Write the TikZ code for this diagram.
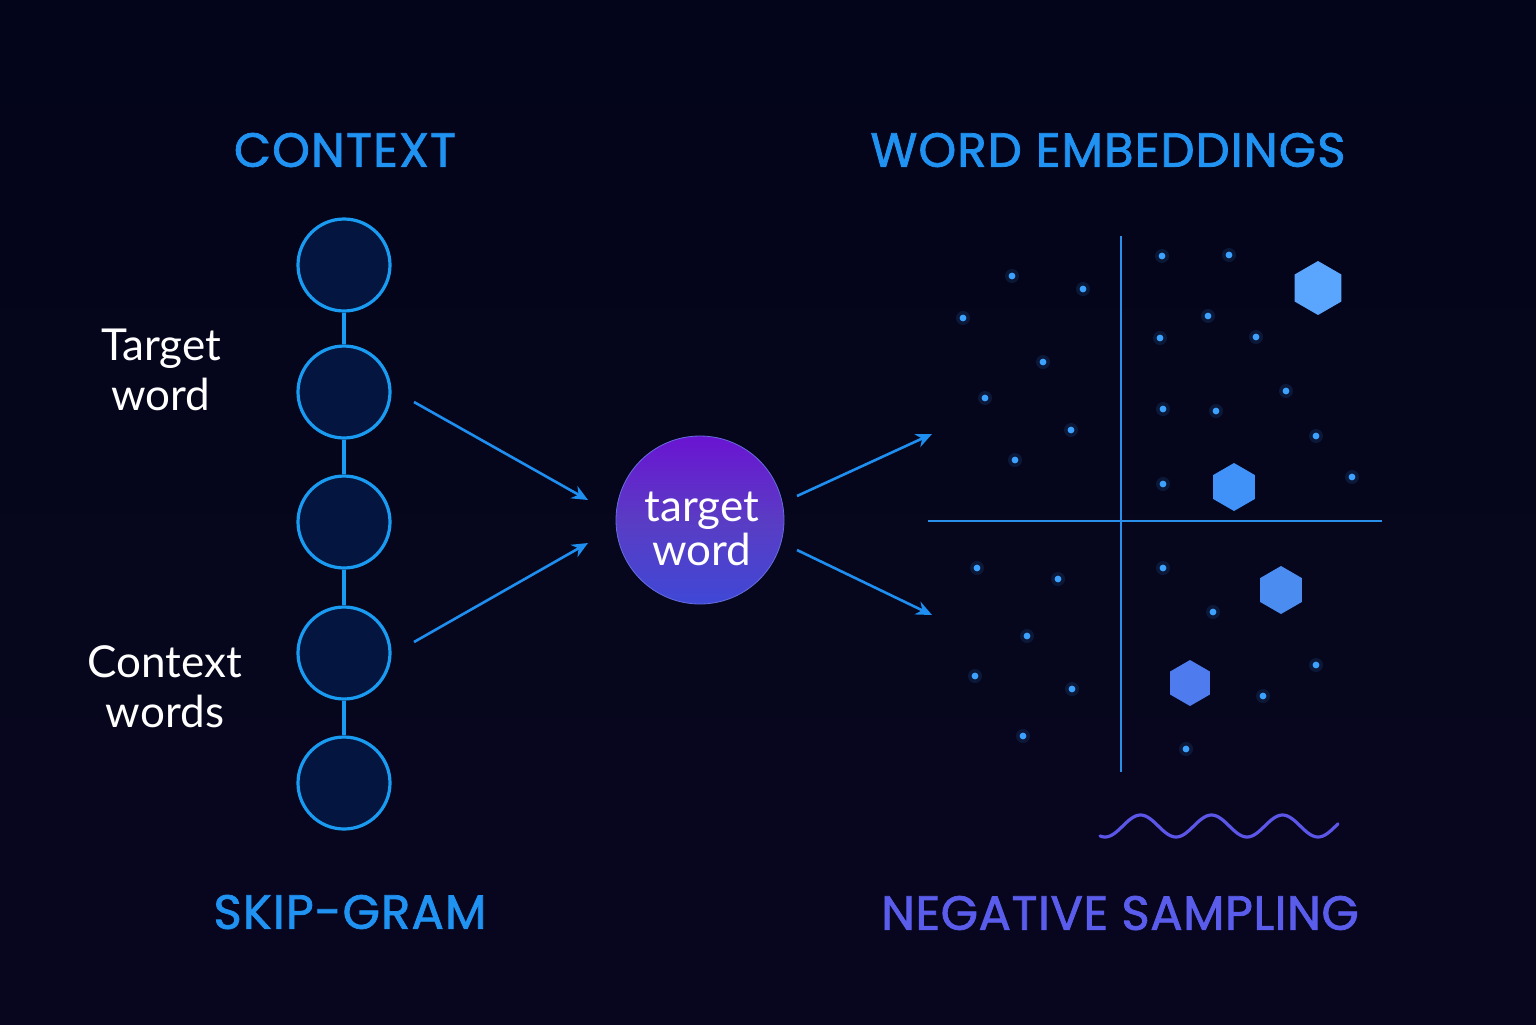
\documentclass[tikz,border=0pt]{standalone}
\usepackage{fontspec}
\setmainfont{Lato}
\newfontfamily\titlefont[LetterSpace=2.5, FakeBold=1.6]{Poppins}
\newfontfamily\titlefontn[LetterSpace=1.2, FakeBold=1.6]{Poppins}
\newfontfamily\labelfont{Lato}
\usetikzlibrary{arrows.meta,shapes.geometric}
\definecolor{bgtop}{HTML}{03051A}
\definecolor{bgbot}{HTML}{08061F}
\definecolor{ringblue}{HTML}{1A9BF2}
\definecolor{ringfill}{HTML}{04153F}
\definecolor{arrowblue}{HTML}{1E8FF0}
\definecolor{axisblue}{HTML}{2A8FE8}
\definecolor{dotblue}{HTML}{3DA2FF}
\definecolor{titleblue}{HTML}{1F92F2}
\definecolor{titleviolet}{HTML}{5A5CEB}
\definecolor{wavecol}{HTML}{5B55E8}
\definecolor{cpurple}{HTML}{6A14D2}
\definecolor{cmid}{HTML}{5A3CC4}
\definecolor{cblue}{HTML}{3F48D6}
\definecolor{hexA}{HTML}{5AA6FF}
\definecolor{hexB}{HTML}{4092F8}
\definecolor{hexC}{HTML}{4A8CF0}
\definecolor{hexD}{HTML}{4E7CEE}
\tikzset{
  ring/.style={circle, draw=ringblue, line width=1.6pt, fill=ringfill, minimum size=46pt, inner sep=0pt},
  link/.style={draw=ringblue, line width=1.6pt},
  flow/.style={draw=arrowblue, line width=1.3pt, -{Stealth[length=8pt,width=7pt]}},
  axisline/.style={draw=axisblue, line width=1.1pt},
  glowdot/.style={circle, fill=dotblue, inner sep=0pt, minimum size=3.4pt},
  halo/.style={circle, fill=dotblue, opacity=0.12, inner sep=0pt, minimum size=7pt},
  hexa/.style={regular polygon, regular polygon sides=6, shape border rotate=30, inner sep=0pt, draw=none},
  titletext/.style={font=\titlefont\fontsize{24}{28}\selectfont},
  sidelabel/.style={font=\labelfont\fontsize{22}{25}\selectfont, text=white, align=center},
}
\begin{document}
\begin{tikzpicture}[x=0.5pt,y=-0.5pt]
\useasboundingbox (0,0) rectangle (1536,1024);
\shade[top color=bgtop, bottom color=bgbot] (0,0) rectangle (1536,1024);

% titles
\node[titletext, text=titleblue] (tctx) at (345,150) {CONTEXT};
\node[titletext, text=titleblue] (temb) at (1108,150) {WORD EMBEDDINGS};
\node[titletext, text=titleblue] (tskip) at (350,912) {SKIP-GRAM};
\node[titletext, font=\titlefontn\fontsize{24}{28}\selectfont, text=titleviolet] (tneg) at (1120,913) {NEGATIVE SAMPLING};

% chain of circles
\node[ring] (c1) at (344,265) {};
\node[ring] (c2) at (344,392) {};
\node[ring] (c3) at (344,522) {};
\node[ring] (c4) at (344,653) {};
\node[ring] (c5) at (344,783) {};
\draw[link] (c1) -- (c2);
\draw[link] (c2) -- (c3);
\draw[link] (c3) -- (c4);
\draw[link] (c4) -- (c5);

% side labels
\node[sidelabel] (ltarget) at (161,370) {Target\\word};
\node[sidelabel] (lcontext) at (165,687) {Context\\words};

% center node
\node[circle, minimum size=84pt, inner sep=0pt, top color=cpurple, bottom color=cblue, middle color=cmid, draw=cblue!80!white, line width=0.4pt] (tw) at (700,520) {};
\node[font=\labelfont\fontsize{22}{22}\selectfont, text=white, align=center] (twtext) at (702,529) {target\\word};

% arrows
\coordinate (a1s) at (414,402);
\coordinate (a1e) at (588,500);
\coordinate (a2s) at (414,642);
\coordinate (a2e) at (588,543);
\coordinate (a3s) at (797,496);
\coordinate (a3e) at (932,434);
\coordinate (a4s) at (797,550);
\coordinate (a4e) at (932,615);
\draw[flow] (a1s) -- (a1e);
\draw[flow] (a2s) -- (a2e);
\draw[flow] (a3s) -- (a3e);
\draw[flow] (a4s) -- (a4e);

% axes
\coordinate (vtop) at (1121,236);
\coordinate (vbot) at (1121,772);
\coordinate (hleft) at (928,521);
\coordinate (hright) at (1382,521);
\draw[axisline] (vtop) -- (vbot);
\draw[axisline] (hleft) -- (hright);

% dots
\foreach \p in {(1012,276),(1083,289),(963,318),(1043,362),(985,398),(1071,430),(1015,460),
  (1162,256),(1229,255),(1208,316),(1160,338),(1256,337),(1286,391),(1163,409),(1216,411),
  (1316,436),(1163,484),(1352,477),(977,568),(1058,579),(1163,568),(1213,612),(1027,636),
  (975,676),(1072,689),(1316,665),(1263,696),(1023,736),(1186,749)}{
  \node[halo] at \p {};
  \node[glowdot] at \p {};
}

% hexagons
\node[hexa, fill=hexA, minimum size=27pt] (h1) at (1318,288) {};
\node[hexa, fill=hexB, minimum size=24pt] (h2) at (1234,487) {};
\node[hexa, fill=hexC, minimum size=24pt] (h3) at (1281,590) {};
\node[hexa, fill=hexD, minimum size=23pt] (h4) at (1190,683) {};

% wave
\draw[wavecol, line width=1.6pt, line cap=round, shift={(1100,0)}]
  plot[domain=0:238, samples=120, smooth] (\x, {826 + 11*cos(5.0704*(\x-5))});
\end{tikzpicture}
\end{document}
